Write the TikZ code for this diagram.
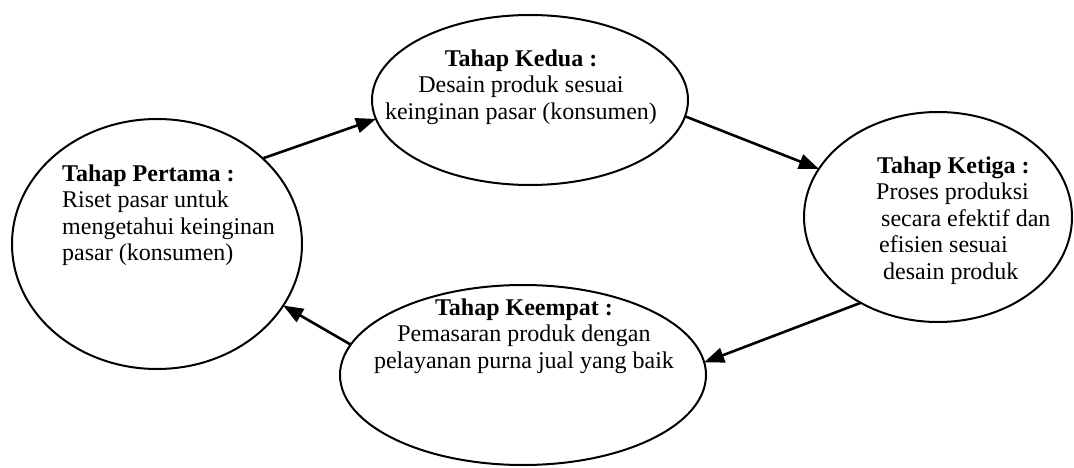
\documentclass[tikz,border=0pt]{standalone}
\usepackage{fontspec}
\setmainfont{Liberation Serif}
\usetikzlibrary{shapes.geometric,arrows.meta}
\begin{document}
\begin{tikzpicture}[x=1pt,y=1pt,
  stage/.style={draw,ellipse,line width=2pt,inner sep=0pt,outer sep=0pt},
  stagetext/.style={inner sep=0pt,font=\fontsize{24}{26.5}\selectfont},
  flow/.style={line width=2.6pt,-{Triangle[length=20pt,width=15pt]}}]
\useasboundingbox (0,0) rectangle (1074,467);
% ellipses
\node[stage,minimum width=290pt,minimum height=250pt] (e1) at (157,223) {};
\node[stage,minimum width=316pt,minimum height=170pt] (e2) at (530,367) {};
\node[stage,minimum width=268pt,minimum height=210pt] (e3) at (938,250) {};
\node[stage,minimum width=366pt,minimum height=180pt] (e4) at (523,92) {};
% texts
\node[stagetext,anchor=north west,align=left] (t1) at (62,302.4)
  {\textbf{Tahap Pertama :}\\Riset pasar untuk\\mengetahui keinginan\\pasar (konsumen)};
\node[stagetext,anchor=north,align=center] (t2) at (521,417.4)
  {\textbf{Tahap Kedua :}\\Desain produk sesuai\\keinginan pasar (konsumen)};
\node[stagetext,anchor=north west,align=left] (t3) at (876,310.4)
  {\hspace*{1pt}\textbf{Tahap Ketiga :}\\Proses produksi\\\hspace*{5pt}secara efektif dan\\\hspace*{3pt}efisien sesuai\\\hspace*{7pt}desain produk};
\node[stagetext,anchor=north,align=center] (t4) at (524,168.4)
  {\textbf{Tahap Keempat :}\\Pemasaran produk dengan\\pelayanan purna jual yang baik};
% connectors
\draw[flow] (e1.39) -- (e2.187);
\draw[flow] (e2.354) -- (e3.158);
\draw[flow] (e3.228) -- (e4.4);
\draw[flow] (e4.170) -- (e1.334);
\end{tikzpicture}
\end{document}
